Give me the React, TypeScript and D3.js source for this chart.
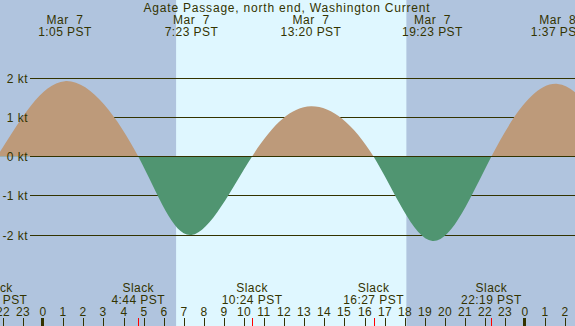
import React from "react";
import * as d3 from "d3";

const W = 575;
const H = 326;

const titleText = "Agate Passage, north end, Washington Current";

// Event times in hours from Mar 7 00:00 PST, speeds in knots
const eventHours = [-5.3, -2.3, 1.083, 4.733, 7.383, 10.4, 13.333, 16.45, 19.383, 22.317, 25.617, 28.9, 31.9];
const eventSpeeds = [-2.0, 0, 1.92, 0, -2.0, 0, 1.28, 0, -2.15, 0, 1.85, 0, -2.0];

const maxHours = [1.083, 7.383, 13.333, 19.383, 25.617];
const maxDates = ["Mar  7", "Mar  7", "Mar  7", "Mar  7", "Mar  8"];
const maxTimes = ["1:05 PST", "7:23 PST", "13:20 PST", "19:23 PST", "1:37 PST"];

const slackHours = [-2.3, 4.733, 10.4, 16.45, 22.317];
const slackTimes = ["21:42 PST", "4:44 PST", "10:24 PST", "16:27 PST", "22:19 PST"];

const sunriseHour = 6.617;
const sunsetHour = 18.083;

const yTicks = [2, 1, 0, -1, -2];
const hourTicks = d3.range(-2, 27);

const FONT = "'Liberation Sans', Arial, sans-serif";
const TXT = "#333300";

export default function App() {
  const x = d3.scaleLinear().domain([0, 24]).range([43.2, 525.2]);
  const y = d3.scaleLinear().domain([-2, 2]).range([235, 78]);

  const pts = eventHours.map((h, i) => [h, eventSpeeds[i]] as [number, number]);
  const area = d3
    .area<[number, number]>()
    .x((d) => x(d[0]))
    .y0(y(0))
    .y1((d) => y(d[1]))
    .curve(d3.curveNatural);
  const path = area(pts) || "";
  const y0 = y(0);
  const gy = (v: number) => Math.floor(y(v)) + 0.5;

  const textStyle: React.CSSProperties = {
    fontFamily: FONT,
    fontSize: 12,
    letterSpacing: "0.45px",
    whiteSpace: "pre",
  };
  const titleStyle: React.CSSProperties = { ...textStyle, letterSpacing: "0.8px" };

  return (
    <svg
      width={W}
      height={H}
      style={{ position: "fixed", left: 0, top: 0, display: "block" }}
    >
      <defs>
        <clipPath id="above">
          <rect x={0} y={0} width={W} height={y0} />
        </clipPath>
        <clipPath id="below">
          <rect x={0} y={y0} width={W} height={H - y0} />
        </clipPath>
      </defs>
      <rect x={0} y={0} width={W} height={H} fill="#b0c4de" />
      <rect
        x={x(sunriseHour)}
        y={0}
        width={x(sunsetHour) - x(sunriseHour)}
        height={H}
        fill="#dff7ff"
      />
      {yTicks.map((v) => (
        <line key={"g" + v} x1={30} x2={W} y1={gy(v)} y2={gy(v)} stroke={TXT} strokeWidth={1} />
      ))}
      <path d={path} fill="#bd9a7a" clipPath="url(#above)" />
      <path d={path} fill="#509571" clipPath="url(#below)" />
      <line x1={30} x2={W} y1={gy(0)} y2={gy(0)} stroke={TXT} strokeWidth={1} />
      {yTicks.map((v) => (
        <text
          key={"l" + v}
          x={28}
          y={gy(v) + 4.5}
          textAnchor="end"
          fill={TXT}
          style={textStyle}
        >
          {`${v} kt`}
        </text>
      ))}

      <text x={287} y={12} textAnchor="middle" fill={TXT} style={titleStyle}>
        {titleText}
      </text>
      {maxHours.map((h, i) => (
        <g key={"m" + i}>
          <text x={x(h)} y={24} textAnchor="middle" fill={TXT} style={textStyle}>
            {maxDates[i]}
          </text>
          <text x={x(h)} y={36} textAnchor="middle" fill={TXT} style={textStyle}>
            {maxTimes[i]}
          </text>
        </g>
      ))}
      {slackHours.map((h, i) => (
        <g key={"s" + i}>
          <text x={x(h)} y={292} textAnchor="middle" fill={TXT} style={textStyle}>
            Slack
          </text>
          <text x={x(h)} y={304} textAnchor="middle" fill={TXT} style={textStyle}>
            {slackTimes[i]}
          </text>
        </g>
      ))}
      {hourTicks.map((h) => {
        const hx = Math.round(x(h));
        const mid = ((h % 24) + 24) % 24 === 0;
        return (
          <g key={"h" + h}>
            <text x={hx} y={316} textAnchor="middle" fill={TXT} style={textStyle}>
              {String(((h % 24) + 24) % 24)}
            </text>
            {mid ? (
              <rect x={hx - 2} y={318} width={3} height={8} fill={TXT} />
            ) : (
              <line x1={hx + 0.5} x2={hx + 0.5} y1={318} y2={326} stroke={TXT} strokeWidth={1} />
            )}
          </g>
        );
      })}
      {slackHours.map((h, i) => {
        const sx = Math.round(x(h));
        return (
          <line
            key={"r" + i}
            x1={sx + 0.5}
            x2={sx + 0.5}
            y1={318}
            y2={326}
            stroke="#ff0000"
            strokeWidth={1}
          />
        );
      })}
    </svg>
  );
}
